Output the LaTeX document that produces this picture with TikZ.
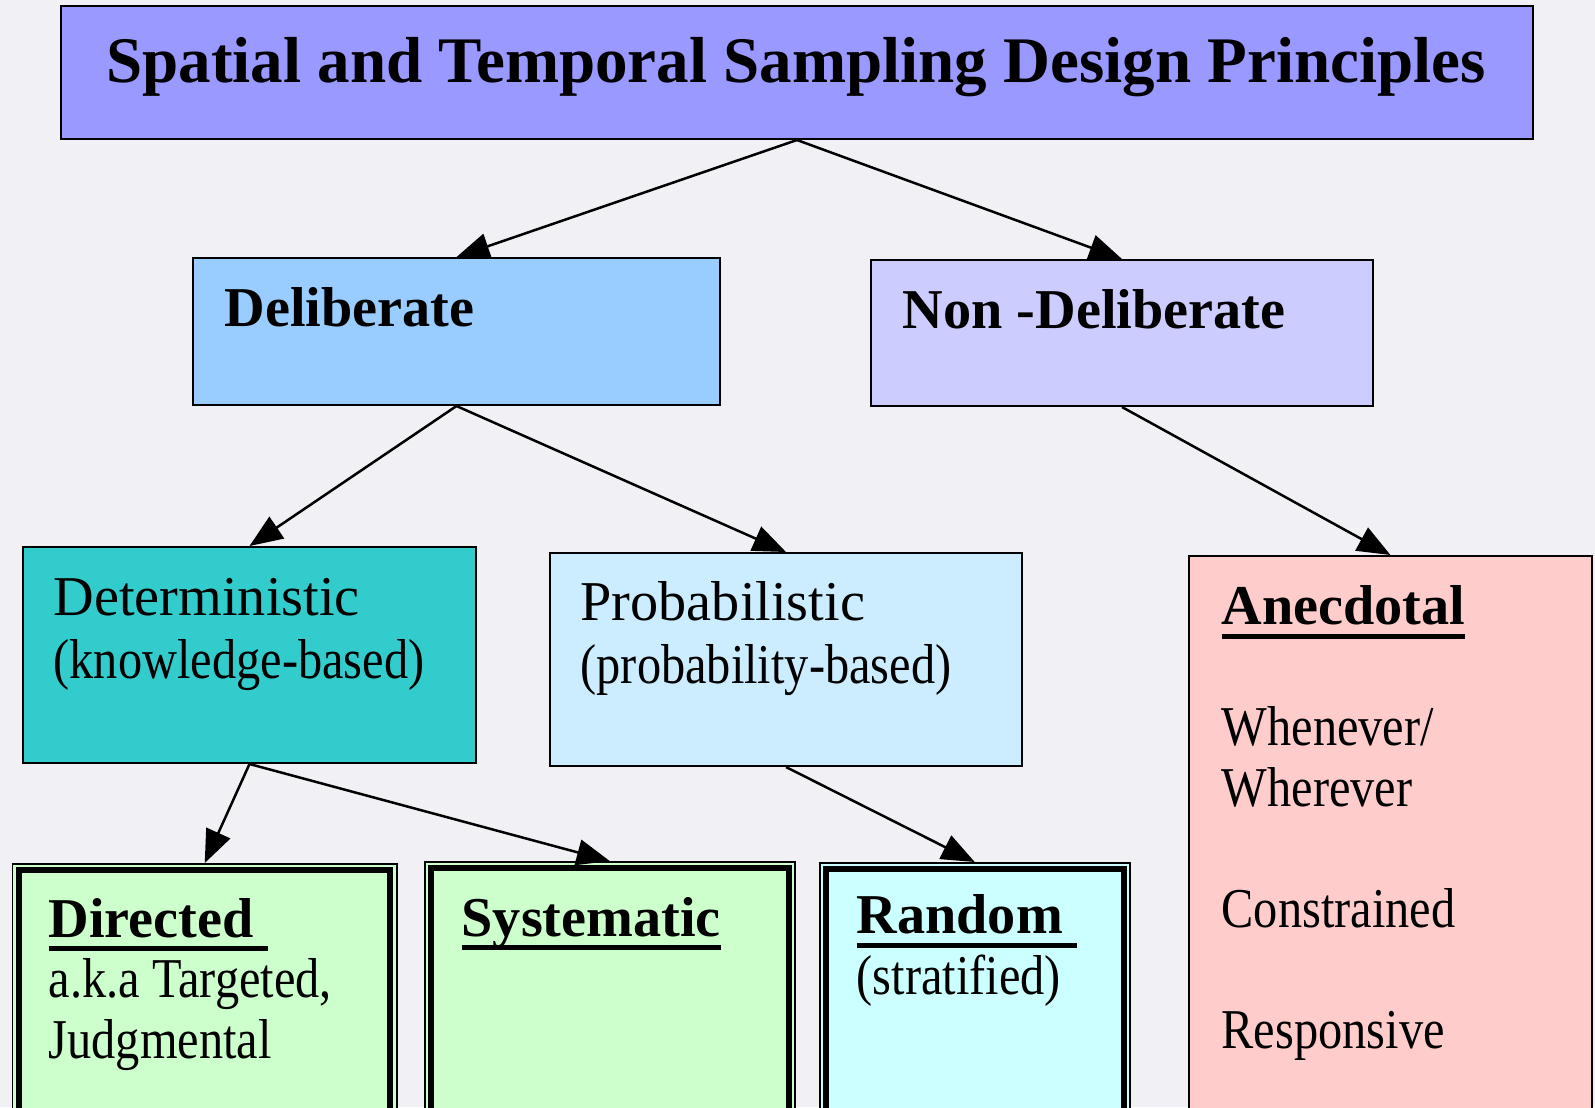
\documentclass[tikz,border=0pt]{standalone}
\usepackage{fontspec}
\setmainfont{Liberation Serif}
%% squeezed serif for the second lines, as the slide shows them
\newfontfamily\narrowserif{Liberation Serif}[FakeStretch=0.86]
\usetikzlibrary{arrows.meta}
%% box colours
\definecolor{titlefill}{HTML}{9999FF}
\definecolor{delibfill}{HTML}{99CCFF}
\definecolor{nondelibfill}{HTML}{CCCCFF}
\definecolor{determfill}{HTML}{33CCCC}
\definecolor{probfill}{HTML}{CCECFF}
\definecolor{anecfill}{HTML}{FFCCCC}
\definecolor{greenfill}{HTML}{CCFFCC}
\definecolor{randfill}{HTML}{CCFFFF}
\definecolor{backfill}{RGB}{241,241,245}
%% thick underline, as in the slide
\newcommand{\ulthick}[1]{\setbox0\hbox{#1}\rlap{\rule[-0.14cm]{\wd0}{0.05cm}}\box0}
%% first lines in the plain serif
\newcommand{\bigline}{\rmfamily}
\begin{document}
\begin{tikzpicture}
[boxdecorate/.style={draw,line width=0.02cm,anchor=north west,inner sep=0pt},%
  textdecorate/.style={anchor=base west,inner sep=0pt,align=left,font=\fontsize{16}{17.2}\selectfont\narrowserif},%
  linedecorate/.style={-{Triangle[length=0.33cm,width=0.26cm]},line width=0.025cm}]
\useasboundingbox (0,0) rectangle (15.95,-11.07);
\clip (0,0) rectangle (15.95,-11.07);
\fill[backfill] (0,0) rectangle (15.95,-11.07);
%% boxes
\node (title) at (0.60,-0.05) [boxdecorate,fill=titlefill,minimum width=14.72cm,minimum height=1.33cm] {};
\node (delib) at (1.92,-2.57) [boxdecorate,fill=delibfill,minimum width=5.27cm,minimum height=1.47cm] {};
\node (nondelib) at (8.70,-2.59) [boxdecorate,fill=nondelibfill,minimum width=5.02cm,minimum height=1.46cm] {};
\node (determ) at (0.22,-5.46) [boxdecorate,fill=determfill,minimum width=4.53cm,minimum height=2.16cm] {};
\node (prob) at (5.49,-5.52) [boxdecorate,fill=probfill,minimum width=4.72cm,minimum height=2.13cm] {};
\node (anec) at (11.88,-5.55) [boxdecorate,fill=anecfill,minimum width=4.03cm,minimum height=6cm] {};
\node (directed) at (0.12,-8.63) [boxdecorate,line width=0.015cm,fill=greenfill,minimum width=3.84cm,minimum height=3cm] {};
\node (system) at (4.24,-8.61) [boxdecorate,line width=0.015cm,fill=greenfill,minimum width=3.70cm,minimum height=3cm] {};
\node (random) at (8.19,-8.62) [boxdecorate,line width=0.015cm,fill=randfill,minimum width=3.10cm,minimum height=3cm] {};
%% inner thick frame of the bottom boxes
\foreach \n in {directed,system,random}
  \draw[line width=0.06cm] ([xshift=0.07cm,yshift=-0.07cm]\n.north west) rectangle ([xshift=-0.07cm,yshift=0.07cm]\n.south east);
%% texts (base west = baseline of the last line)
\node (titletext) at (7.96,-0.82) [anchor=base,inner sep=0pt,font=\fontsize{18.5}{22}\selectfont\bfseries] {Spatial and Temporal Sampling Design Principles};
\node (delibtext) at (2.24,-3.26) [textdecorate,font=\fontsize{16}{17.2}\selectfont\bfseries] {Deliberate};
\node (nondelibtext) at (9.02,-3.28) [textdecorate,font=\fontsize{16}{17.2}\selectfont\bfseries] {Non -Deliberate};
\node (determtext) at (0.53,-6.78) [textdecorate,font=\fontsize{16}{17.9}\selectfont\narrowserif] {{\bigline Deterministic}\\(knowledge-based)};
\node (probtext) at (5.80,-6.83) [textdecorate,font=\fontsize{16}{17.9}\selectfont\narrowserif] {{\bigline Probabilistic}\\(probability-based)};
\node (anectext) at (12.21,-10.48) [textdecorate] {\ulthick{\bigline\bfseries Anecdotal}\\[17.2pt]Whenever/\\Wherever\\[17.2pt]Constrained\\[17.2pt]Responsive};
\node (directedtext) at (0.48,-10.58) [textdecorate] {\ulthick{\bigline\bfseries Directed\ }\\a.k.a Targeted,\\Judgmental};
\node (systemtext) at (4.61,-9.36) [textdecorate] {\ulthick{\bigline\bfseries Systematic}};
\node (randomtext) at (8.56,-9.94) [textdecorate] {\ulthick{\bigline\bfseries Random\ }\\(stratified)};
%% edges
\path
(title.south) edge[linedecorate] (delib.north)
(title.south) edge[linedecorate] (nondelib.north)
(delib.south) edge[linedecorate] (determ.north)
(delib.south) edge[linedecorate] (prob.north)
(nondelib.south) edge[linedecorate] (anec.north)
(determ.south) edge[linedecorate] (directed.north)
(determ.south) edge[linedecorate] (system.north)
(prob.south) edge[linedecorate] (random.north);
\end{tikzpicture}
\end{document}
